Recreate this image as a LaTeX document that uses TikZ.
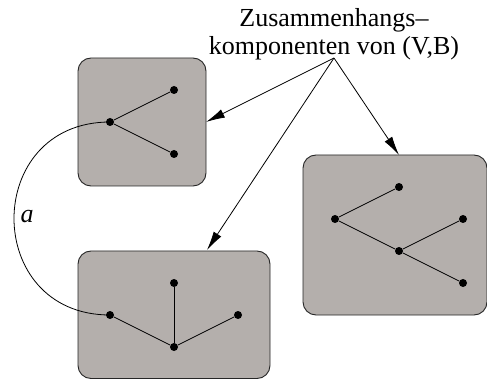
\documentclass[tikz,border=0pt]{standalone}
\usepackage{fontspec}
\setmainfont{Liberation Serif}
\usetikzlibrary{arrows.meta}
\definecolor{compfill}{RGB}{180,175,172}
\tikzset{
  comp/.style={draw=black!85, fill=compfill, line width=0.9pt, rounded corners=13pt},
  vtx/.style={circle, fill=black, inner sep=0pt, minimum size=8pt},
  edge/.style={line width=0.8pt},
  pointer/.style={line width=0.8pt, -{Latex[length=19pt,width=9pt]}},
  bigtext/.style={font=\fontsize{26}{28}\selectfont},
  capline/.style={bigtext, anchor=base, inner sep=0pt},
}
\begin{document}
\begin{tikzpicture}[x=1pt,y=-1pt]
\useasboundingbox (0,0) rectangle (487,379);

% connected components
\draw[comp] (78,58) rectangle (206,186);
\draw[comp] (78,251) rectangle (270,378.5);
\draw[comp] (303,155) rectangle (487,315);
\coordinate (c1) at (206,122);
\coordinate (c2) at (207,250);
\coordinate (c3) at (399,155);

% first component
\node[vtx] (a1) at (110,122) {};
\node[vtx] (a2) at (174,90) {};
\node[vtx] (a3) at (174,154) {};
\draw[edge] (a1) -- (a2);
\draw[edge] (a1) -- (a3);

% second component
\node[vtx] (b1) at (110,315) {};
\node[vtx] (b2) at (174,283) {};
\node[vtx] (b3) at (174,347) {};
\node[vtx] (b4) at (238,315) {};
\draw[edge] (b1) -- (b3);
\draw[edge] (b2) -- (b3);
\draw[edge] (b4) -- (b3);

% third component
\node[vtx] (d1) at (335,219) {};
\node[vtx] (d2) at (399,187) {};
\node[vtx] (d3) at (463,219) {};
\node[vtx] (d4) at (399,251) {};
\node[vtx] (d5) at (463,283) {};
\draw[edge] (d1) -- (d2);
\draw[edge] (d1) -- (d4);
\draw[edge] (d4) -- (d3);
\draw[edge] (d4) -- (d5);

% edge a between the components
\draw[edge] (a1.center) .. controls (-18,122) and (-18,315) .. (b1.center);
\node[bigtext] (la) at (27,217) {\itshape a};

% caption and pointers
\node[capline] (cap1) at (334,27) {Zusammenhangs–};
\node[capline] (cap2) at (334,55) {komponenten von (V,B)};
\coordinate (src) at (334,58);
\draw[pointer] (src) -- (c1);
\draw[pointer] (src) -- (c2);
\draw[pointer] (src) -- (c3);
\end{tikzpicture}
\end{document}
